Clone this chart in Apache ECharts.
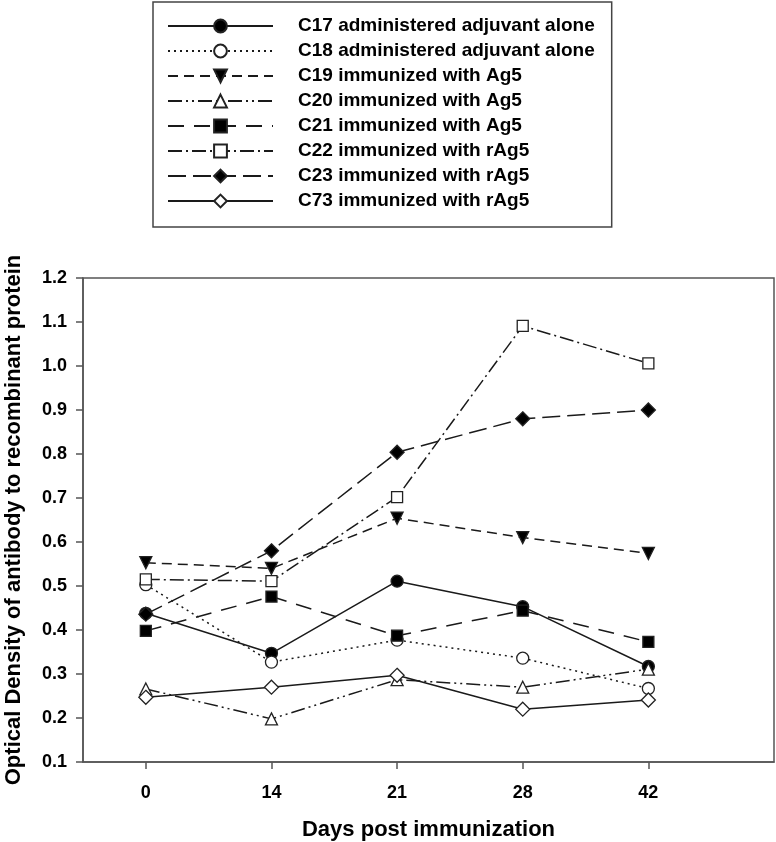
<!DOCTYPE html>
<html>
<head>
<meta charset="utf-8">
<script src="https://cdn.jsdelivr.net/npm/echarts@6/dist/echarts.min.js"></script>
<style>
html,body{margin:0;padding:0;background:#fff;}
#chart{width:776px;height:842px;}
</style>
</head>
<body>
<div id="chart"></div>
<script>
var days = ['0', '14', '21', '28', '42'];
var yTicks = [0.1, 0.2, 0.3, 0.4, 0.5, 0.6, 0.7, 0.8, 0.9, 1.0, 1.1, 1.2];

var seriesNames = [
  'C17 administered adjuvant alone',
  'C18 administered adjuvant alone',
  'C19 immunized with Ag5',
  'C20 immunized with Ag5',
  'C21 immunized with Ag5',
  'C22 immunized with rAg5',
  'C23 immunized with rAg5',
  'C73 immunized with rAg5'
];

var c17 = [0.438, 0.347, 0.511, 0.453, 0.317];
var c18 = [0.503, 0.327, 0.377, 0.336, 0.267];
var c19 = [0.553, 0.540, 0.654, 0.610, 0.574];
var c20 = [0.266, 0.198, 0.287, 0.270, 0.311];
var c21 = [0.398, 0.476, 0.387, 0.444, 0.373];
var c22 = [0.515, 0.511, 0.702, 1.091, 1.006];
var c23 = [0.436, 0.580, 0.804, 0.880, 0.900];
var c73 = [0.247, 0.270, 0.297, 0.220, 0.241];

var values = [c17, c18, c19, c20, c21, c22, c23, c73];

var LINE = '#1a1a1a';
var styles = [
  {symbol: 'circle', size: 12, fill: '#000', dash: 'solid', rot: 0},
  {symbol: 'circle', size: 12, fill: '#fff', dash: [2, 4], rot: 0},
  {symbol: 'triangle', size: 12, fill: '#000', dash: [10, 6], rot: 180},
  {symbol: 'triangle', size: 12, fill: '#fff', dash: [14, 4, 2, 4, 2, 4], rot: 0},
  {symbol: 'rect', size: 11, fill: '#000', dash: [16, 10], rot: 0},
  {symbol: 'rect', size: 11, fill: '#fff', dash: [14, 4, 2, 4], rot: 0},
  {symbol: 'diamond', size: 14, fill: '#000', dash: [18, 7], rot: 0},
  {symbol: 'diamond', size: 14, fill: '#fff', dash: 'solid', rot: 0}
];

var series = seriesNames.map(function (name, k) {
  var st = styles[k];
  return {
    name: name,
    type: 'line',
    data: values[k].map(function (v, i) { return [i, v]; }),
    symbol: st.symbol,
    symbolSize: st.size,
    symbolRotate: st.rot,
    lineStyle: {color: LINE, width: 1.5, type: st.dash},
    itemStyle: {color: st.fill, borderColor: '#222', borderWidth: 1.3},
    emphasis: {disabled: true},
    animation: false,
    z: 2 + k
  };
});

var FONT = 'Liberation Sans, Arial, sans-serif';
var chart = echarts.init(document.getElementById('chart'), null, {renderer: 'canvas'});
chart.setOption({
  backgroundColor: '#fff',
  animation: false,
  grid: {
    left: 83, right: 2, top: 278, bottom: 80,
    outerBoundsMode: 'none',
    containLabel: false,
    show: true, borderColor: '#555', borderWidth: 1.5, backgroundColor: 'transparent'
  },
  legend: {
    orient: 'vertical',
    left: 153, top: 2,
    padding: [11.5, 17, 13.5, 14],
    borderColor: '#444', borderWidth: 1.5,
    backgroundColor: '#fff',
    itemWidth: 105, itemHeight: 16, itemGap: 0,
    selectedMode: false,
    data: seriesNames,
    textStyle: {
      fontFamily: FONT,
      fontWeight: 'bold', fontSize: 19, color: '#000',
      lineHeight: 25, padding: [0, 0, 0, 20]
    }
  },
  xAxis: {
    type: 'value',
    min: -0.5, max: 5,
    name: 'Days post immunization',
    nameLocation: 'middle',
    nameGap: 57,
    nameTextStyle: {fontFamily: FONT, fontWeight: 'bold', fontSize: 22, color: '#000'},
    axisLine: {show: true, onZero: false, lineStyle: {color: '#555', width: 1.5}},
    axisTick: {show: true, inside: false, length: 7, customValues: [0, 1, 2, 3, 4], lineStyle: {color: '#555', width: 1.5}},
    axisLabel: {
      customValues: [0, 1, 2, 3, 4],
      margin: 22,
      fontFamily: FONT, fontWeight: 'bold', fontSize: 18, color: '#000',
      formatter: function (v) { var i = Math.round(v); return days[i] !== undefined ? days[i] : ''; }
    },
    splitLine: {show: false}
  },
  yAxis: {
    type: 'value',
    min: 0.1, max: 1.2, interval: 0.1,
    name: 'Optical Density of antibody to recombinant protein',
    nameLocation: 'middle',
    nameGap: 58,
    nameTextStyle: {fontFamily: FONT, fontWeight: 'bold', fontSize: 22, color: '#000'},
    axisLine: {show: true, onZero: false, lineStyle: {color: '#555', width: 1.5}},
    axisTick: {show: true, inside: false, length: 7, lineStyle: {color: '#555', width: 1.5}},
    axisLabel: {
      margin: 16,
      fontFamily: FONT, fontWeight: 'bold', fontSize: 18, color: '#000',
      customValues: yTicks,
      formatter: function (v) { return v.toFixed(1); }
    },
    splitLine: {show: false}
  },
  series: series
});
</script>
</body>
</html>
